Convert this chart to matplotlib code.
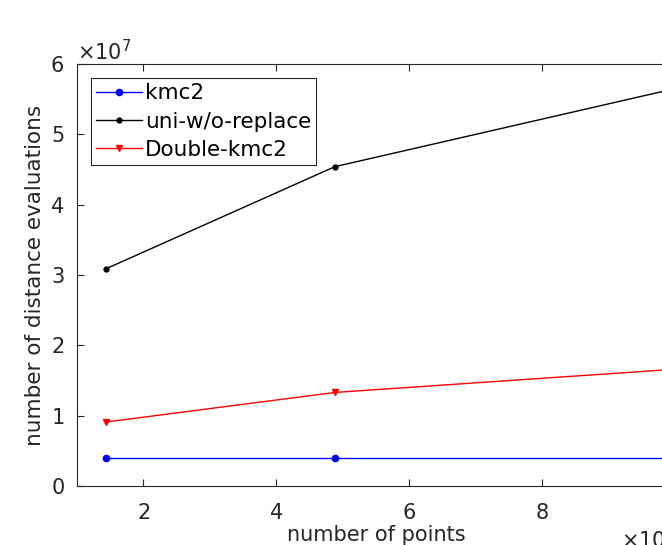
import matplotlib.pyplot as plt
from matplotlib.ticker import ScalarFormatter

# datos
num_points = [1.44e5, 4.88e5, 10.0e5]
kmc2 = [0.40e7, 0.40e7, 0.40e7]
uni_wo_replace = [3.09e7, 4.54e7, 5.65e7]
double_kmc2 = [0.91e7, 1.33e7, 1.66e7]

plt.rcParams['font.family'] = 'DejaVu Sans'
plt.rcParams['mathtext.fontset'] = 'dejavusans'

fig = plt.figure(figsize=(6.62, 5.45), dpi=100)
# the axes run past the right edge, like the cropped original
ax = fig.add_axes([77/662, 59/545, 598/662, 422/545])

ax.plot(num_points, kmc2, color='blue', marker='.', markersize=9, lw=1, label='kmc2')
ax.plot(num_points, uni_wo_replace, color='black', marker='.', markersize=7, lw=1, label='uni-w/o-replace')
ax.plot(num_points, double_kmc2, color='red', marker='v', markersize=4, lw=1, label='Double-kmc2')

ax.set_xlim(1e5, 10e5)
ax.set_ylim(0, 6e7)
ax.set_xticks([2e5, 4e5, 6e5, 8e5, 10e5])
ax.set_yticks([0, 1e7, 2e7, 3e7, 4e7, 5e7, 6e7])

xfmt = ScalarFormatter(useMathText=True)
xfmt.set_powerlimits((5, 5))
ax.xaxis.set_major_formatter(xfmt)
yfmt = ScalarFormatter(useMathText=True)
yfmt.set_powerlimits((7, 7))
ax.yaxis.set_major_formatter(yfmt)

ax.tick_params(direction='in', length=5, width=0.8, top=True, right=True,
               labelsize=15, colors='#262626')
ax.tick_params(axis='x', pad=12)
ax.tick_params(axis='y', pad=9)
ax.yaxis.get_offset_text().set_fontsize(15)
ax.xaxis.get_offset_text().set_fontsize(15)
for s in ax.spines.values():
    s.set_color('#262626')
    s.set_linewidth(0.8)

ax.set_xlabel('number of points', fontsize=15, color='#262626', labelpad=2)
ax.set_ylabel('number of distance evaluations', fontsize=15.5, color='#262626')

leg = ax.legend(loc='upper left', fontsize=15.5, fancybox=False, framealpha=1,
                edgecolor='#262626', borderpad=0.25, handlelength=2.1,
                handletextpad=0.15, labelspacing=0.38, borderaxespad=0.65)
leg.get_frame().set_linewidth(0.8)

plt.savefig('out.png', dpi=100)
